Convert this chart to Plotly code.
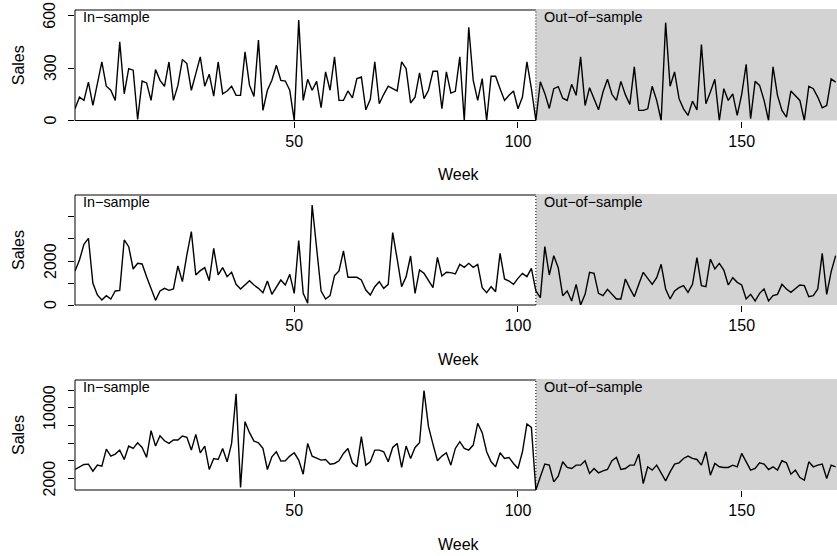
import plotly.graph_objects as go

weeks = list(range(1, 172))
split_week = 104

sales_1 = [67,134,115,220,86,211,335,196,173,115,
           451,153,297,288,6,226,215,115,292,230,
           196,335,115,201,349,326,173,268,364,196,
           265,140,335,153,169,196,144,144,393,201,
           138,460,58,173,230,316,230,226,173,0,
           575,115,236,173,224,73,278,173,364,115,
           115,169,130,240,249,61,121,336,96,150,
           196,182,169,336,297,100,134,272,125,173,
           282,282,67,278,157,167,364,0,533,230,
           115,240,0,253,253,182,115,144,169,67,
           134,336,182,0,222,155,69,182,194,128,
           115,207,144,364,86,188,128,61,163,236,
           150,115,224,148,92,307,58,58,67,196,
           115,0,560,196,278,125,67,29,111,61,
           435,96,163,236,0,182,115,153,29,150,
           322,10,224,201,115,0,307,144,58,19,
           169,144,115,0,196,182,134,73,86,238,220]

sales_2 = [1545,2045,2758,3030,985,455,227,424,273,636,
           667,2955,2650,1636,1894,1864,1288,758,212,636,
           758,667,727,1773,1061,2273,3333,1364,1561,1697,
           1106,2576,1364,1697,1288,1485,939,727,909,1106,
           909,758,561,1091,485,788,1136,909,1394,530,
           2930,530,76,4545,2424,636,273,424,1333,1545,
           2455,1258,1258,1258,1136,682,455,833,1061,758,
           939,3288,2091,833,1288,2227,530,1591,1439,1136,
           788,2167,1318,1485,1470,1409,1848,1712,1894,1712,
           1848,788,561,833,606,2348,1182,1091,939,1212,
           1439,1288,1667,636,333,2652,1364,2242,1697,424,
           636,182,939,0,485,1485,1439,530,424,712,
           485,273,273,1182,758,379,939,1485,1212,939,
           1242,1848,727,273,636,788,879,576,939,2152,
           879,833,2091,1636,1894,1591,909,1242,1030,909,
           273,485,182,530,727,182,424,485,939,727,
           576,727,909,879,379,424,727,2348,485,1515,2242]

sales_3 = [3023,3326,3591,3629,2833,3515,3402,5333,4538,4765,
           5220,4159,5674,5409,6053,5523,4386,7417,5674,6849,
           6280,5977,6356,6356,6811,6659,5220,7000,4917,5674,
           3023,4273,4159,5409,3894,5977,11584,977,8440,7190,
           6242,6053,5409,3023,4462,5030,3970,4008,4538,4917,
           4083,2492,5977,4538,4273,4083,4159,3629,3705,4008,
           4841,5409,3780,3326,6735,3515,3894,5220,5220,5030,
           3894,5523,5977,3250,5674,4273,5523,6053,11962,7871,
           5902,4008,4538,4917,3515,5409,6167,5409,5220,5788,
           8250,7190,5030,3894,3326,4917,4273,4386,3705,3136,
           5030,8174,7796,700,2189,3629,3515,1621,2265,3894,
           3250,3136,3515,3515,4008,2568,3136,2644,2871,3023,
           4008,4386,3023,3136,3515,3515,4765,1432,3326,2947,
           3515,2644,1735,2758,3629,3780,4273,4538,4273,4159,
           3515,5030,2379,3705,3326,3250,3250,3515,3326,4841,
           3894,2947,3136,3780,3629,3023,3326,2947,4008,3780,
           2492,2947,2114,1811,3894,3326,3515,3629,2000,3515,3326]

series = [sales_1, sales_2, sales_3]

x_ticks = [50, 100, 150]
x_ticklabels = ["50", "100", "150"]
y_ticks = [[0, 300, 600],
           [0, 1000, 2000, 3000, 4000],
           [2000, 4000, 6000, 8000, 10000, 12000]]
y_ticklabels = [["0", "300", "600"],
                ["0", "", "2000", "", ""],
                ["2000", "", "", "", "10000", ""]]

W, H = 837, 556
L = 75
x_max = 171.3
panel_px = [(10, 120.5), (195, 305), (380, 490)]

FONT = "Liberation Sans, Arial, Helvetica, sans-serif"
fig = go.Figure()
shapes = []
annotations = []
f_split = (split_week - 1) / (x_max - 1)

for i, (vals, (top, bot)) in enumerate(zip(series, panel_px)):
    n = i + 1
    xa = "x" if n == 1 else f"x{n}"
    ya = "y" if n == 1 else f"y{n}"
    fig.add_trace(go.Scatter(x=weeks, y=vals, mode="lines",
                             line=dict(color="black", width=1.4),
                             xaxis=xa, yaxis=ya, showlegend=False,
                             hoverinfo="skip"))
    ymin = min(vals)
    ymax = 1.1 * max(vals)
    span = ymax - ymin
    dom = [1 - bot / H, 1 - top / H]
    fig.layout[f"xaxis{'' if n == 1 else n}"] = dict(
        domain=[0, 1], range=[1, x_max], anchor=ya,
        showgrid=False, zeroline=False, showline=False,
        ticks="outside", ticklen=6, tickwidth=1, tickcolor="black",
        tickvals=x_ticks, ticktext=x_ticklabels,
        tickfont=dict(family=FONT, size=16, color="black"),
        automargin=False, fixedrange=True)
    fig.layout[f"yaxis{'' if n == 1 else n}"] = dict(
        domain=dom, range=[ymin, ymax], anchor=xa,
        showgrid=False, zeroline=False, showline=False,
        ticks="outside", ticklen=6, tickwidth=1, tickcolor="black",
        tickvals=y_ticks[i], showticklabels=False,
        automargin=False, fixedrange=True)
    # y tick labels (rotated, parallel to axis)
    for tv, tt in zip(y_ticks[i], y_ticklabels[i]):
        if tt:
            annotations.append(dict(text=tt, xref="paper", yref=ya, x=0, y=tv,
                                    xanchor="center", yanchor="middle",
                                    xshift=-25, textangle=-90, showarrow=False,
                                    font=dict(family=FONT, size=16, color="black")))
    # out-of-sample shading
    shapes.append(dict(type="rect", xref=xa, yref=ya,
                       x0=split_week, x1=x_max + 10,
                       y0=ymin - span, y1=ymax + span,
                       fillcolor="#d3d3d3", line=dict(width=0),
                       layer="below"))
    shapes.append(dict(type="line", xref=xa, yref=ya,
                       x0=split_week, x1=split_week, y0=ymin, y1=ymax,
                       line=dict(color="black", width=1, dash="1px,2px"),
                       layer="below"))
    xd, yd = f"{xa} domain", f"{ya} domain"
    shapes.append(dict(type="line", xref=xd, yref=yd, x0=f_split, x1=1.01, y0=1, y1=1,
                       line=dict(color="#a8a8a8", width=1), layer="below"))
    shapes.append(dict(type="line", xref=xd, yref=yd, x0=0, x1=0, y0=0, y1=1,
                       line=dict(color="black", width=1), layer="below"))
    shapes.append(dict(type="line", xref=xd, yref=yd, x0=0, x1=f_split, y0=1, y1=1,
                       line=dict(color="black", width=1), layer="below"))
    shapes.append(dict(type="line", xref=xd, yref=yd, x0=0, x1=f_split, y0=0, y1=0,
                       line=dict(color="black", width=1), layer="below"))
    annotations.append(dict(text="In\u2212sample", xref=xd, yref=yd, x=0, y=1,
                            xanchor="left", yanchor="top", xshift=6, yshift=3,
                            showarrow=False,
                            font=dict(family=FONT, size=14.4, color="black")))
    annotations.append(dict(text="Out\u2212of\u2212sample", xref=xa, yref=yd,
                            x=split_week, y=1, xanchor="left", yanchor="top",
                            xshift=6, yshift=3, showarrow=False,
                            font=dict(family=FONT, size=14.4, color="black")))
    annotations.append(dict(text="Week", xref=xd, yref=yd, x=(459 - L) / (W - L),
                            y=0, xanchor="center", yanchor="middle", yshift=-54,
                            showarrow=False,
                            font=dict(family=FONT, size=16, color="black")))
    annotations.append(dict(text="Sales", xref="paper", yref=yd, x=0, y=0.5,
                            xanchor="center", yanchor="middle", xshift=-57,
                            textangle=-90, showarrow=False,
                            font=dict(family=FONT, size=16, color="black")))

fig.update_layout(width=W, height=H,
                  margin=dict(l=L, r=0, t=0, b=0, pad=0),
                  paper_bgcolor="white", plot_bgcolor="white",
                  shapes=shapes, annotations=annotations,
                  showlegend=False, hovermode=False)

fig.write_html("out.html",
               config={"displayModeBar": False, "staticPlot": True},
               post_script="document.body.style.margin='0';"
                           "document.body.style.overflow='hidden';")
